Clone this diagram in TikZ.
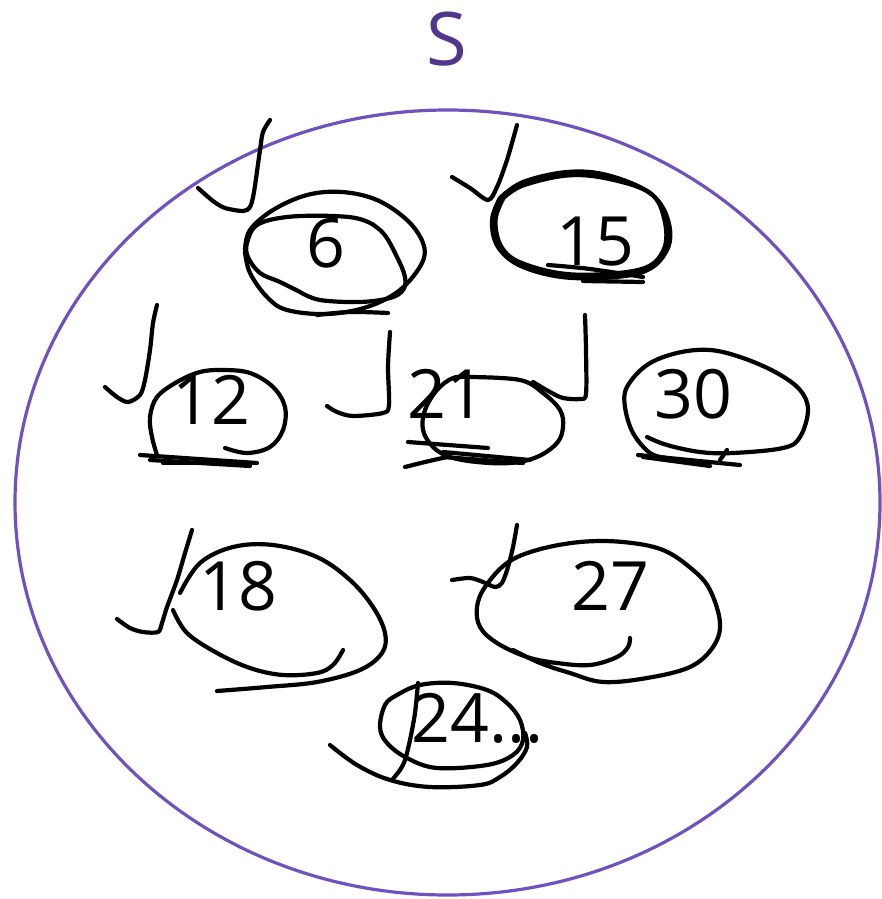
\documentclass[tikz,border=0pt]{standalone}
\usepackage{fontspec}
\setmainfont{Open Sans}
\definecolor{setpurple}{RGB}{112,82,190}
\definecolor{labelpurple}{RGB}{80,55,140}
\usetikzlibrary{positioning}

\begin{document}
\begin{tikzpicture}[
    x=1pt, y=-1pt,
    setline/.style={draw=setpurple, line width=3.2pt},
    ink/.style={draw=black, line width=4.2pt, line cap=round, line join=round},
    num/.style={font=\fontsize{68}{80}\selectfont, inner sep=0pt},
    setlabel/.style={font=\fontsize{74}{88}\selectfont, text=labelpurple, inner sep=0pt}
]
    \useasboundingbox (0,0) rectangle (882,899);

    % the set
    \draw[setline] (447.5,502.5) ellipse [x radius=432.5pt, y radius=392.5pt];
    \node[setlabel] (lblS) at (447,39) {S};

    % numbers
    \node[num] (n6)  at (326,243) {6};
    \node[num] (n15) at (595,242) {15};
    \node[num] (n12) at (211,400) {12};
    \node[num] (n21) at (446,394) {21};
    \node[num] (n30) at (693,394) {30};
    \node[num] (n18) at (238,586) {18};
    \node[num] (n27) at (610,586) {27};
    \node[num] (n24) at (478,718) {24...};

    % ticks
    \draw[ink] plot[smooth, tension=0.5] coordinates {(198,188) (213,201) (225,208) (243,211) (250,207) (254,192) (260,150) (263,132) (270,120)};
    \draw[ink] plot[smooth, tension=0.5] coordinates {(452,177) (470,188) (488,200) (497,187) (507,160) (517,125)};
    \draw[ink] plot[smooth, tension=0.5] coordinates {(105,387) (117,397) (128,402) (140,395) (145,380) (150,350) (153,323) (157,305)};
    \draw[ink] plot[smooth, tension=0.5] coordinates {(327,406) (337,412) (353,416) (383,413) (389,405) (388,367) (390,332)};
    \draw[ink] plot[smooth, tension=0.5] coordinates {(533,382) (550,392) (563,398) (580,399) (586,394) (586,350) (585,315)};
    \draw[ink] plot[smooth, tension=0.5] coordinates {(117,619) (130,628) (143,632) (158,632) (162,623) (167,607) (177,580) (185,553) (192,530)};
    \draw[ink] plot[smooth, tension=0.5] coordinates {(452,580) (470,578) (483,582) (495,587) (502,583) (508,567) (513,547) (517,525)};

    % loop round 6
    \draw[ink] plot[smooth, tension=0.6] coordinates {(245,250) (250,230) (273,210) (307,195) (342,192) (377,200) (407,220) (423,243) (422,263) (400,290) (367,307) (327,314) (287,310) (267,297) (250,273) (245,252)};
    \draw[ink] plot[smooth, tension=0.6] coordinates {(300,292) (280,282) (260,273) (248,257) (247,243) (257,225) (287,217) (333,216) (363,220) (383,233) (397,257) (405,277) (403,290) (390,298) (360,302) (320,300) (300,292)};
    \draw[ink] plot[smooth, tension=0.6] coordinates {(317,315) (350,312) (388,313)};

    % loop round 15
    \foreach \d in {0,3.5}
      \draw[ink] plot[smooth, tension=0.6] coordinates {(500+\d,198) (523,182+\d) (567,172+\d) (607,175+\d) (650,193) (668-\d,220) (667-\d,250) (640,273-\d) (573,278-\d) (523,267-\d) (498+\d,247) (492+\d,220) (500+\d,198)};
    \draw[ink] plot[smooth, tension=0.6] coordinates {(548,265) (590,269) (643,277)};
    \draw[ink] plot[smooth, tension=0.6] coordinates {(583,281) (643,282)};

    % loop round 12
    \draw[ink] plot[smooth, tension=0.6] coordinates {(225,448) (247,453) (270,447) (283,430) (285,407) (273,387) (250,373) (223,370) (200,372) (177,382) (157,397) (150,417) (152,437) (157,455)};
    \draw[ink] (140,455) -- (257,463);
    \draw[ink] (150,460) -- (250,466);
    \draw[ink] (163,463) -- (253,463);

    % loop round 21
    \draw[ink] plot[smooth, tension=0.6] coordinates {(470,377) (520,380) (543,393) (560,410) (563,427) (557,443) (537,457) (510,463) (477,462) (450,457) (433,447) (423,430) (425,410) (437,390) (453,378) (470,377)};
    \draw[ink] (408,442) -- (488,448);
    \draw[ink] (443,452) -- (530,460);
    \draw[ink] plot[smooth, tension=0.6] coordinates {(405,467) (425,462) (447,457)};
    \draw[ink] (443,457) -- (523,463);

    % loop round 30
    \draw[ink] plot[smooth, tension=0.6] coordinates {(647,437) (667,445) (700,452) (733,453) (783,448) (800,437) (808,410) (800,390) (777,373) (743,358) (710,350) (677,353) (647,365) (627,387) (625,407) (633,433) (650,453) (667,458)};
    \draw[ink] (638,455) -- (740,465);
    \draw[ink] (643,457) -- (710,466);
    \draw[ink] (727,450) -- (720,460);

    % loop round 18
    \draw[ink] plot[smooth, tension=0.6] coordinates {(180,593) (200,563) (233,547) (273,545) (317,557) (350,580) (373,607) (385,633) (382,653) (360,670) (317,682) (267,687) (217,691)};
    \draw[ink] plot[smooth, tension=0.6] coordinates {(173,610) (187,633) (217,653) (250,668) (283,675) (317,673) (333,665) (343,650)};

    % loop round 27
    \draw[ink] plot[smooth, tension=0.6] coordinates {(630,638) (628,647) (617,657) (590,665) (557,663) (527,657) (497,643) (480,627) (477,607) (485,587) (507,563) (537,550) (580,542) (623,542) (663,550) (693,570) (710,590) (720,623) (713,647) (690,667) (647,678) (603,682) (570,673) (540,663) (513,650)};

    % loop round 24
    \draw[ink] plot[smooth cycle, tension=0.6] coordinates {(420,685) (453,683) (487,690) (507,703) (520,720) (523,740) (513,755) (487,765) (437,768) (407,758) (387,743) (380,727) (385,705) (397,695)};
    \draw[ink] plot[smooth, tension=0.5] coordinates {(418,683) (415,713) (410,740) (405,760) (400,770) (392,780)};
    \draw[ink] plot[smooth, tension=0.6] coordinates {(330,745) (357,765) (390,780) (430,787) (480,785) (500,777) (517,763) (527,747) (525,733)};
\end{tikzpicture}
\end{document}
